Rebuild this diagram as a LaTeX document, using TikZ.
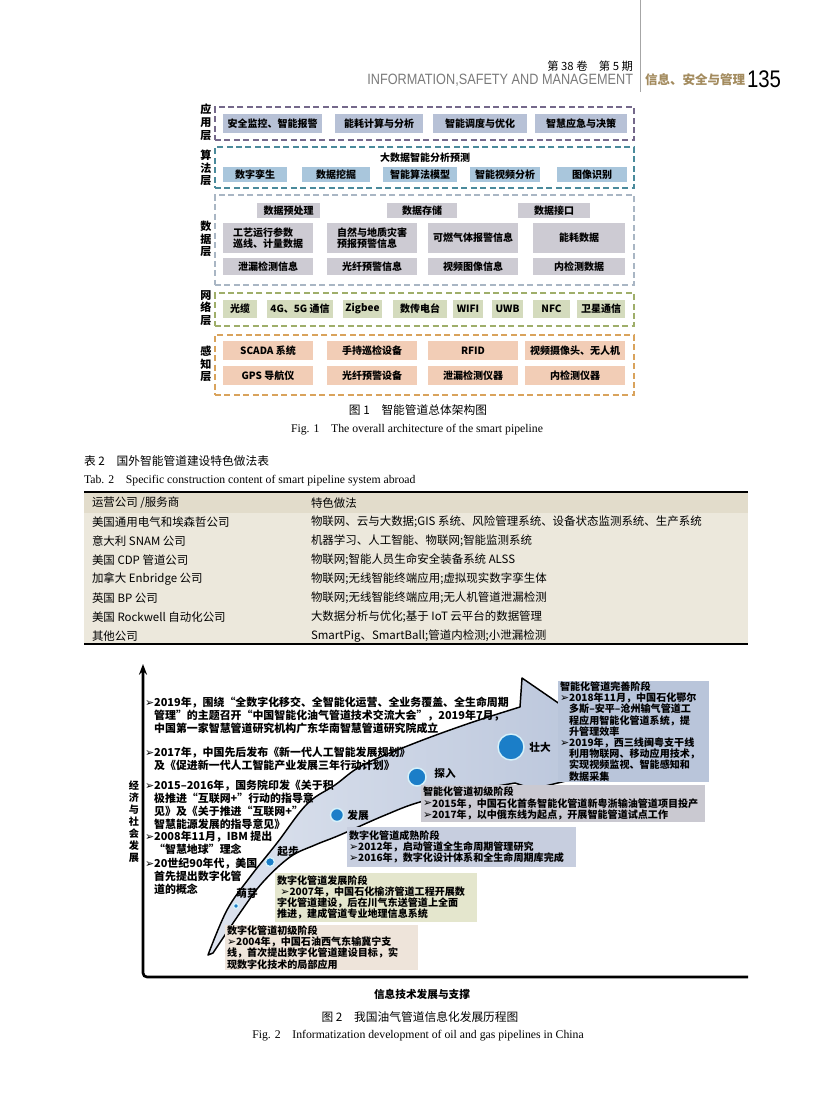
\documentclass[tikz,border=0pt]{standalone}
\usepackage{fontspec}
\usepackage{graphicx}
\setmainfont{Noto Sans CJK SC}
\newfontfamily\en{Liberation Serif}
\newfontfamily\hs{Liberation Sans}
\newfontfamily\djv{DejaVu Sans}
\usetikzlibrary{arrows.meta}
\definecolor{appd}{HTML}{74688A}
\definecolor{algd}{HTML}{4A8A9B}
\definecolor{datd}{HTML}{A9B6C4}
\definecolor{netd}{HTML}{9FAE6A}
\definecolor{perd}{HTML}{D9A35C}
\definecolor{appf}{HTML}{B7C1D6}
\definecolor{algf}{HTML}{A9C6DC}
\definecolor{datf}{HTML}{CDCBD3}
\definecolor{netf}{HTML}{D4DBBD}
\definecolor{perf}{HTML}{F2CDB6}
\definecolor{tblf}{HTML}{ECE8DC}
\definecolor{tblh}{HTML}{E2DCCB}
\definecolor{hdgray}{HTML}{7A7A7A}
\definecolor{tan}{HTML}{A38B5E}
\definecolor{bandL}{HTML}{DDE3EE}
\definecolor{bandR}{HTML}{B6C2D9}
\definecolor{dotc}{HTML}{1B7EC8}
\definecolor{haloc}{HTML}{D6F1FA}
\definecolor{bxA}{HTML}{B9C5DA}
\definecolor{bxB}{HTML}{CAC9D1}
\definecolor{bxC}{HTML}{C7CEDF}
\definecolor{bxD}{HTML}{E4E6CD}
\definecolor{bxE}{HTML}{EEE4DA}
\newcommand\bl{\raisebox{0.2pt}{\djv\fontsize{8.2}{8.2}\selectfont ➢}}
\newcommand\ind{\hphantom{\bl}}
% fixed box: name, x1, y1, x2, y2, style, text
\newcommand\bx[7]{\pgfmathsetmacro\bxw{(#4-#2)*0.75}\pgfmathsetmacro\bxh{(#5-#3)*0.75}%
\node[#6, minimum width=\bxw pt, minimum height=\bxh pt] (#1) at ({(#2+#4)/2},{(#3+#5)/2}) {#7};}
% left-aligned text box
\newcommand\tbx[7]{\pgfmathsetmacro\tbw{(#4-#2)*0.75-3}\pgfmathsetmacro\tbh{(#5-#3)*0.75}%
\node[fill=#6, anchor=north west, inner xsep=1.5pt, inner ysep=0pt, text width=\tbw pt, minimum height=\tbh pt, align=left, font=\bfseries\fontsize{7.55}{8.4}\selectfont] (#1) at (#2,#3) {#7};}
\begin{document}
\begin{tikzpicture}[x=0.75pt,y=-0.75pt, every node/.style={inner sep=0pt, outer sep=0pt},
  layer/.style={draw=#1, dash pattern=on 4.5pt off 2.6pt, line width=1.1pt},
  lab/.style={align=center, font=\bfseries\fontsize{8.3}{9.6}\selectfont},
  fb/.style={fill=#1, align=center, font=\bfseries\fontsize{7.5}{8.6}\selectfont},
  fbl/.style={fill=#1, align=left, font=\bfseries\fontsize{7.5}{8.6}\selectfont},
  capcn/.style={font=\fontsize{8.8}{9}\selectfont},
  capen/.style={font=\en\fontsize{8.8}{9}\selectfont},
  cell/.style={anchor=west, font=\fontsize{8.6}{9}\selectfont},
  item/.style={anchor=north west, align=left, font=\bfseries\fontsize{8.2}{9.8}\selectfont},
  dot/.style={circle, fill=dotc, draw=haloc, line width=1.1pt},
  dlab/.style={font=\bfseries\fontsize{8}{8}\selectfont}]
\path[fill=white] (0,0) rectangle (816,1119);
\useasboundingbox (0,0) rectangle (816,1119);

% ---------- header ----------
\coordinate (vt) at (640,0);
\coordinate (vb) at (640,92);
\draw[gray!70, line width=0.6pt] (vt) -- (vb);
\node[anchor=east, font=\fontsize{8.5}{9}\selectfont] (vol) at (633,66) {第 38 卷\quad 第 5 期};
\node[anchor=east, text=hdgray] (jname) at (633,80) {\scalebox{0.85}[1]{\hs\fontsize{11.2}{12}\selectfont INFORMATION,SAFETY AND MANAGEMENT}};
\node[anchor=west, text=tan, font=\bfseries\fontsize{9.4}{10}\selectfont] (jcn) at (645,80) {信息、安全与管理};
\node[anchor=west] (page) at (747,79) {\scalebox{0.85}[1]{\hs\fontsize{18}{18}\selectfont 135}};

% ---------- Figure 1 ----------
\node[lab] (L1) at (206,122) {应\\用\\层};
\node[lab] (L2) at (206,168) {算\\法\\层};
\node[lab] (L3) at (206,239) {数\\据\\层};
\node[lab] (L4) at (206,308) {网\\络\\层};
\node[lab] (L5) at (206,364) {感\\知\\层};

\bx{appbox}{215}{107}{634}{140}{layer=appd}{}
\bx{algbox}{215}{147}{634}{188}{layer=algd}{}
\bx{datbox}{215}{195}{634}{285}{layer=datd}{}
\bx{netbox}{215}{293}{634}{326}{layer=netd}{}
\bx{perbox}{215}{335}{634}{395}{layer=perd}{}

\bx{a1}{223}{114}{322}{133}{fb=appf}{安全监控、智能报警}
\bx{a2}{335}{114}{423}{133}{fb=appf}{能耗计算与分析}
\bx{a3}{433}{114}{527}{133}{fb=appf}{智能调度与优化}
\bx{a4}{535}{114}{627}{133}{fb=appf}{智慧应急与决策}

\node[font=\bfseries\fontsize{7.5}{8}\selectfont] (algt) at (425,158) {大数据智能分析预测};
\bx{g1}{223}{167}{287}{182}{fb=algf}{数字孪生}
\bx{g2}{302}{167}{370}{182}{fb=algf}{数据挖掘}
\bx{g3}{383}{167}{457}{182}{fb=algf}{智能算法模型}
\bx{g4}{470}{167}{540}{182}{fb=algf}{智能视频分析}
\bx{g5}{557}{167}{627}{182}{fb=algf}{图像识别}

\bx{d1}{257}{203}{320}{218}{fb=datf}{数据预处理}
\bx{d2}{387}{203}{457}{218}{fb=datf}{数据存储}
\bx{d3}{518}{203}{590}{218}{fb=datf}{数据接口}
\bx{d4}{223}{223}{313}{253}{fbl=datf}{工艺运行参数\\巡线、计量数据}
\bx{d5}{327}{223}{417}{253}{fbl=datf}{自然与地质灾害\\预报预警信息}
\bx{d6}{428}{223}{518}{253}{fb=datf}{可燃气体报警信息}
\bx{d7}{533}{223}{625}{253}{fb=datf}{能耗数据}
\bx{d8}{223}{258}{313}{275}{fb=datf}{泄漏检测信息}
\bx{d9}{327}{258}{417}{275}{fb=datf}{光纤预警信息}
\bx{d10}{428}{258}{518}{275}{fb=datf}{视频图像信息}
\bx{d11}{533}{258}{625}{275}{fb=datf}{内检测数据}

\bx{n1}{223}{300}{257}{318}{fb=netf}{光缆}
\bx{n2}{267}{300}{333}{318}{fb=netf}{4G、5G 通信}
\bx{n3}{343}{300}{382}{318}{fb=netf}{Zigbee}
\bx{n4}{393}{300}{447}{318}{fb=netf}{数传电台}
\bx{n5}{453}{300}{483}{318}{fb=netf}{WIFI}
\bx{n6}{492}{300}{523}{318}{fb=netf}{UWB}
\bx{n7}{533}{300}{570}{318}{fb=netf}{NFC}
\bx{n8}{577}{300}{625}{318}{fb=netf}{卫星通信}

\bx{p1}{223}{341}{313}{360}{fb=perf}{SCADA 系统}
\bx{p2}{327}{341}{417}{360}{fb=perf}{手持巡检设备}
\bx{p3}{428}{341}{518}{360}{fb=perf}{RFID}
\bx{p4}{525}{341}{625}{360}{fb=perf}{视频摄像头、无人机}
\bx{p5}{223}{366}{313}{385}{fb=perf}{GPS 导航仪}
\bx{p6}{327}{366}{417}{385}{fb=perf}{光纤预警设备}
\bx{p7}{428}{366}{518}{385}{fb=perf}{泄漏检测仪器}
\bx{p8}{525}{366}{625}{385}{fb=perf}{内检测仪器}

\node[capcn] (f1cn) at (418,410) {图 1\quad 智能管道总体架构图};
\node[capen] (f1en) at (417,430) {Fig. 1\quad The overall architecture of the smart pipeline};

% ---------- Table 2 ----------
\node[anchor=west, font=\fontsize{8.8}{9}\selectfont] (t2cn) at (84,461) {表 2\quad 国外智能管道建设特色做法表};
\node[anchor=west, font=\en\fontsize{8.8}{9}\selectfont] (t2en) at (84,481) {Tab. 2\quad Specific construction content of smart pipeline system abroad};
\bx{tbody}{84}{492}{748}{644}{fill=tblf}{}
\bx{thead}{84}{493}{748}{513}{fill=tblh}{}
\coordinate (tl) at (84,492); \coordinate (tr) at (748,492);
\coordinate (bl) at (84,644); \coordinate (br) at (748,644);
\draw[line width=1.5pt] (tl) -- (tr);
\draw[line width=2pt] (bl) -- (br);
\node[cell] (h1) at (92,503) {运营公司 /服务商};
\node[cell] (h2) at (311,503) {特色做法};
\node[cell] (r1a) at (92,522) {美国通用电气和埃森哲公司};
\node[cell] (r1b) at (311,522) {物联网、云与大数据;GIS 系统、风险管理系统、设备状态监测系统、生产系统};
\node[cell] (r2a) at (92,541) {意大利 SNAM 公司};
\node[cell] (r2b) at (311,541) {机器学习、人工智能、物联网;智能监测系统};
\node[cell] (r3a) at (92,560) {美国 CDP 管道公司};
\node[cell] (r3b) at (311,560) {物联网;智能人员生命安全装备系统 ALSS};
\node[cell] (r4a) at (92,579) {加拿大 Enbridge 公司};
\node[cell] (r4b) at (311,579) {物联网;无线智能终端应用;虚拟现实数字孪生体};
\node[cell] (r5a) at (92,598) {英国 BP 公司};
\node[cell] (r5b) at (311,598) {物联网;无线智能终端应用;无人机管道泄漏检测};
\node[cell] (r6a) at (92,617) {美国 Rockwell 自动化公司};
\node[cell] (r6b) at (311,617) {大数据分析与优化;基于 IoT 云平台的数据管理};
\node[cell] (r7a) at (92,636) {其他公司};
\node[cell] (r7b) at (311,636) {SmartPig、SmartBall;管道内检测;小泄漏检测};

% ---------- Figure 2 ----------
\coordinate (ytop) at (143,664);
\coordinate (orig) at (143,977);
\coordinate (xend) at (748,977);
\draw[line width=2pt, rounded corners=3pt, -{Stealth[length=8pt,width=6pt]}] (xend) -- (orig) -- (ytop);

\shade[left color=bandL, right color=bandR, draw=black, line width=1.1pt, line join=round]
  plot[smooth, tension=0.6] coordinates {(208,955) (227,910) (250,877) (277,843) (307,804) (335,785) (363,765) (415,743) (470,723) (520,707)}
  -- (522,678) -- (644,762) -- (533,789) -- (515,783)
  -- plot[smooth, tension=0.6] coordinates {(515,783) (470,791) (420,802) (383,816) (340,835) (315,845) (290,857) (263,882) (242,910) (213,953)}
  -- cycle;

\node[dot, minimum size=3.8pt] (s1) at (236,906) {};
\node[dot, minimum size=6.8pt] (s2) at (270,862) {};
\node[dot, minimum size=9.8pt] (s3) at (337,815) {};
\node[dot, minimum size=13.5pt] (s4) at (417,777) {};
\node[dot, minimum size=19.5pt] (s5) at (511,747) {};
\node[dlab] (s1l) at (247,893) {萌芽};
\node[dlab] (s2l) at (288,852) {起步};
\node[dlab] (s3l) at (358,815) {发展};
\node[dlab] (s4l) at (445,773) {探入};
\node[dlab] (s5l) at (540,747) {壮大};

\node[item] (i1) at (145,697) {\bl 2019年，围绕“全数字化移交、全智能化运营、全业务覆盖、全生命周期\\\ind 管理”的主题召开“中国智能化油气管道技术交流大会”，2019年7月，\\\ind 中国第一家智慧管道研究机构广东华南智慧管道研究院成立};
\node[item] (i2) at (145,747) {\bl 2017年，中国先后发布《新一代人工智能发展规划》\\\ind 及《促进新一代人工智能产业发展三年行动计划》};
\node[item] (i3) at (145,780) {\bl 2015–2016年，国务院印发《关于积\\\ind 极推进“互联网+”行动的指导意\\\ind 见》及《关于推进“互联网+”\\\ind 智慧能源发展的指导意见》};
\node[item] (i4) at (145,831) {\bl 2008年11月，IBM 提出\\\ind “智慧地球”理念};
\node[item] (i5) at (145,858) {\bl 20世纪90年代，美国\\\ind 首先提出数字化管\\\ind 道的概念};

\node[align=center, font=\bfseries\fontsize{7.6}{9}\selectfont] (yl) at (134,822) {经\\济\\与\\社\\会\\发\\展};

\tbx{bA}{558}{681}{709}{782}{bxA}{智能化管道完善阶段\\\bl 2018年11月，中国石化鄂尔\\\ind 多斯–安平–沧州输气管道工\\\ind 程应用智能化管道系统，提\\\ind 升管理效率\\\bl 2019年，西三线闽粤支干线\\\ind 利用物联网、移动应用技术，\\\ind 实现视频监视、智能感知和\\\ind 数据采集}
\tbx{bB}{421}{785}{705}{822}{bxB}{智能化管道初级阶段\\\bl 2015年，中国石化首条智能化管道新粤浙输油管道项目投产\\\bl 2017年，以中俄东线为起点，开展智能管道试点工作}
\tbx{bC}{347}{827}{576}{867}{bxC}{数字化管道成熟阶段\\\bl 2012年，启动管道全生命周期管理研究\\\bl 2016年，数字化设计体系和全生命周期库完成}
\tbx{bD}{275}{873}{477}{922}{bxD}{数字化管道发展阶段\\\ \bl 2007年，中国石化榆济管道工程开展数\\字化管道建设，后在川气东送管道上全面\\推进，建成管道专业地理信息系统}
\tbx{bE}{225}{925}{418}{970}{bxE}{数字化管道初级阶段\\\bl 2004年，中国石油西气东输冀宁支\\线，首次提出数字化管道建设目标，实\\现数字化技术的局部应用}

\node[font=\bfseries\fontsize{8}{9}\selectfont] (xl) at (422,994) {信息技术发展与支撑};
\node[capcn] (f2cn) at (420,1017) {图 2\quad 我国油气管道信息化发展历程图};
\node[capen] (f2en) at (418,1036) {Fig. 2\quad Informatization development of oil and gas pipelines in China};
\end{tikzpicture}
\end{document}
